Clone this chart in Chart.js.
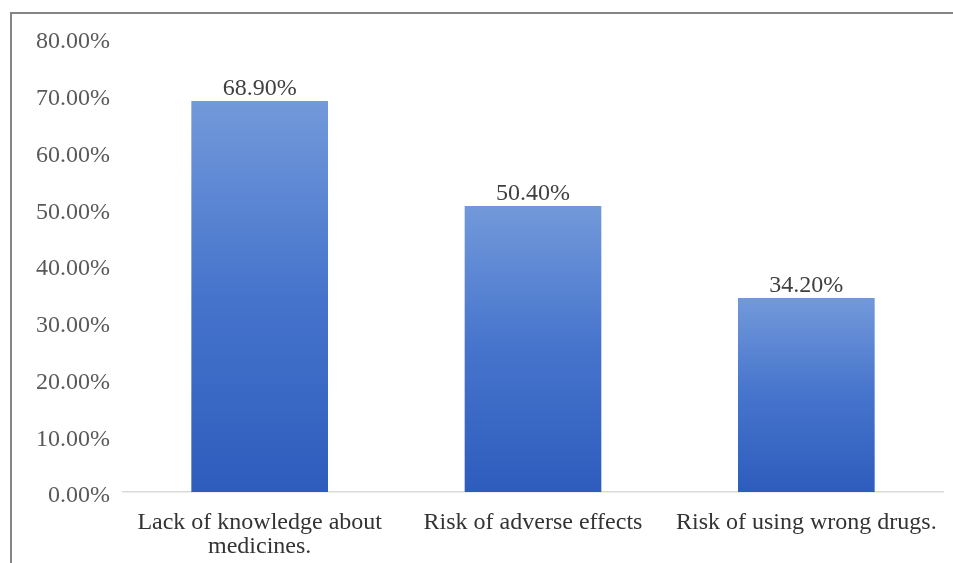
<!DOCTYPE html>
<html>
<head>
<meta charset="utf-8">
<script src="https://cdn.jsdelivr.net/npm/chart.js@4/dist/chart.umd.min.js"></script>
<style>
  html, body { margin: 0; padding: 0; background: #ffffff; }
  #wrap { position: relative; width: 953px; height: 563px; }
</style>
</head>
<body>
<div id="wrap"><canvas id="chart" width="953" height="563"></canvas></div>
<script>
// Reasons reported (share of respondents)
const categories = [["Lack of knowledge about", "medicines."], "Risk of adverse effects", "Risk of using wrong drugs."];
const percentages = [68.9, 50.4, 34.2];
const yTicks = [0, 10, 20, 30, 40, 50, 60, 70, 80];

const SERIF = '"Liberation Serif", "Times New Roman", serif';

// Vertical gradient for each bar, from its top down to the baseline
function barGradient(ctx) {
  const chart = ctx.chart;
  if (!chart.chartArea || ctx.raw === undefined) return '#4472c4';
  const y = chart.scales.y;
  const top = y.getPixelForValue(ctx.raw);
  const bottom = y.getPixelForValue(0);
  const g = chart.ctx.createLinearGradient(0, top, 0, bottom);
  g.addColorStop(0, '#7299da');
  g.addColorStop(0.5, '#4674cc');
  g.addColorStop(1, '#2d5cbd');
  return g;
}

// Outer frame (top and left edges)
const framePlugin = {
  id: 'frame',
  beforeDraw(chart) {
    const c = chart.ctx;
    c.save();
    c.fillStyle = '#ffffff';
    c.fillRect(0, 0, chart.width, chart.height);
    c.strokeStyle = '#858585';
    c.lineWidth = 2;
    c.beginPath();
    c.moveTo(11, chart.height);
    c.lineTo(11, 13);
    c.lineTo(chart.width, 13);
    c.stroke();
    c.restore();
  }
};

// Value labels above each bar
const valueLabels = {
  id: 'valueLabels',
  afterDatasetsDraw(chart) {
    const c = chart.ctx;
    const meta = chart.getDatasetMeta(0);
    c.save();
    c.font = '24px ' + SERIF;
    c.fillStyle = '#404040';
    c.textAlign = 'center';
    c.textBaseline = 'bottom';
    meta.data.forEach((bar, i) => {
      const v = chart.data.datasets[0].data[i];
      c.fillText(v.toFixed(2) + '%', bar.x, bar.y);
    });
    c.restore();
  }
};

new Chart(document.getElementById('chart'), {
  type: 'bar',
  data: {
    labels: categories,
    datasets: [{
      data: percentages,
      backgroundColor: barGradient,
      borderWidth: 0,
      barPercentage: 1,
      categoryPercentage: 0.5
    }]
  },
  options: {
    responsive: false,
    animation: false,
    events: [],
    layout: { padding: { top: 38, right: 10, left: 0, bottom: 0 } },
    plugins: {
      legend: { display: false },
      tooltip: { enabled: false }
    },
    scales: {
      x: {
        grid: { display: false, drawTicks: false },
        border: { display: true, color: '#d9d9d9', width: 1.5 },
        ticks: {
          color: '#333333',
          font: { family: SERIF, size: 24, lineHeight: 1.0 },
          padding: 19,
          maxRotation: 0,
          autoSkip: false
        },
        afterFit(scale) {
          scale.height = 71;
          scale.paddingLeft = 0;
          scale.paddingRight = 0;
        }
      },
      y: {
        min: 0,
        max: 80,
        afterBuildTicks(scale) { scale.ticks = yTicks.map(v => ({ value: v })); },
        grid: { display: false, drawTicks: false },
        border: { display: false },
        ticks: {
          color: '#595959',
          font: { family: SERIF, size: 24 },
          padding: 13,
          labelOffset: 4,
          callback: v => v.toFixed(2) + '%'
        },
        afterFit(scale) { scale.width = 123; }
      }
    }
  },
  plugins: [framePlugin, valueLabels]
});
</script>
</body>
</html>
